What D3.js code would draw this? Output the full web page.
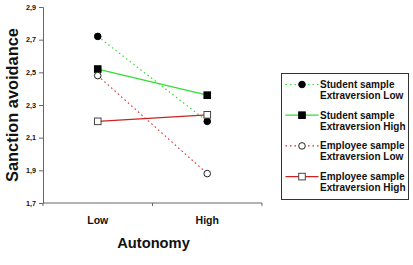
<!DOCTYPE html>
<html>
<head>
<meta charset="utf-8">
<script src="https://cdn.jsdelivr.net/npm/d3@7"></script>
<style>
  body { margin: 0; background: #fff; }
  text { font-family: "Liberation Sans", Arial, sans-serif; font-weight: bold; fill: #111; }
</style>
</head>
<body>
<div id="chart"></div>
<script>
// data
var categories = ["Low", "High"];
var seriesNames = [
  ["Student sample", "Extraversion Low"],
  ["Student sample", "Extraversion High"],
  ["Employee sample", "Extraversion Low"],
  ["Employee sample", "Extraversion High"]
];
var studentLow = [2.72, 2.20];
var studentHigh = [2.52, 2.36];
var employeeLow = [2.48, 1.88];
var employeeHigh = [2.20, 2.24];
var yTicks = [1.7, 1.9, 2.1, 2.3, 2.5, 2.7, 2.9];

var series = [
  { name: seriesNames[0], values: studentLow, color: "#33dd33", dash: "1.5,3", marker: "circle", fill: "#000", stroke: "#000" },
  { name: seriesNames[1], values: studentHigh, color: "#33dd33", dash: null, marker: "square", fill: "#000", stroke: "#000" },
  { name: seriesNames[2], values: employeeLow, color: "#dd2222", dash: "1.5,3", marker: "circle", fill: "#fff", stroke: "#222" },
  { name: seriesNames[3], values: employeeHigh, color: "#cc2222", dash: null, marker: "square", fill: "#fff", stroke: "#444" }
];

var svgWidth = 413, svgHeight = 265;
var margin = { top: 7, left: 43, right: 151, bottom: 62 };
var width = svgWidth - margin.left - margin.right;
var height = svgHeight - margin.top - margin.bottom;

var svg = d3.select("#chart").append("svg")
  .attr("width", svgWidth)
  .attr("height", svgHeight);

var chartGroup = svg.append("g")
  .attr("transform", `translate(${margin.left}, ${margin.top})`);

var xScale = d3.scaleBand().domain(categories).range([0, width]);
var yScale = d3.scaleLinear().domain([1.7, 2.9]).range([height, 0]);

var fmt = d => d3.format(".1f")(d).replace(".", ",");

// y axis
var yAxis = chartGroup.append("g")
  .call(d3.axisLeft(yScale).tickValues(yTicks).tickFormat(fmt).tickSize(4).tickPadding(3));
yAxis.selectAll("line, path").attr("stroke", "#666");
yAxis.selectAll("text").style("font-size", "7.2px").style("font-weight", "bold").attr("fill", "#111");

// x axis with tick marks at band boundaries
var xAxisG = chartGroup.append("g").attr("transform", `translate(0, ${height})`);
xAxisG.append("line").attr("x1", 0).attr("x2", width).attr("y1", 0).attr("y2", 0).attr("stroke", "#666");
[0, width / 2, width].forEach(function (x) {
  xAxisG.append("line").attr("x1", x).attr("x2", x).attr("y1", 0).attr("y2", 3).attr("stroke", "#666");
});
xAxisG.selectAll(".xlab")
  .data(categories)
  .enter()
  .append("text")
  .attr("x", d => xScale(d) + xScale.bandwidth() / 2)
  .attr("y", 21)
  .attr("text-anchor", "middle")
  .style("font-size", "10.5px")
  .text(d => d);

// axis titles
svg.append("text")
  .attr("x", margin.left + width / 2 + 1)
  .attr("y", 248)
  .attr("text-anchor", "middle")
  .style("font-size", "14.7px")
  .text("Autonomy");

svg.append("text")
  .attr("transform", "rotate(-90)")
  .attr("x", -105)
  .attr("y", 18)
  .attr("text-anchor", "middle")
  .style("font-size", "16.4px")
  .text("Sanction avoidance");

var cx = d => xScale(d) + xScale.bandwidth() / 2;

function drawMarker(g, s, x, y) {
  if (s.marker === "circle") {
    g.append("circle").attr("cx", x).attr("cy", y).attr("r", 3.3)
      .attr("fill", s.fill).attr("stroke", s.stroke).attr("stroke-width", 1);
  } else {
    g.append("rect").attr("x", x - 3.3).attr("y", y - 3.3).attr("width", 6.6).attr("height", 6.6)
      .attr("fill", s.fill).attr("stroke", s.stroke).attr("stroke-width", 1);
  }
}

var line = d3.line().x((d, i) => cx(categories[i])).y(d => yScale(d));

series.forEach(function (s) {
  chartGroup.append("path")
    .datum(s.values)
    .attr("d", line)
    .attr("fill", "none")
    .attr("stroke", s.color)
    .attr("stroke-width", 1.2)
    .attr("stroke-dasharray", s.dash);
});
series.forEach(function (s) {
  s.values.forEach(function (v, i) {
    drawMarker(chartGroup, s, cx(categories[i]), yScale(v));
  });
});

// legend
var legend = svg.append("g").attr("transform", "translate(281.5, 73.5)");
legend.append("rect").attr("x", 0).attr("y", 0).attr("width", 127).attr("height", 126)
  .attr("fill", "#fff").attr("stroke", "#333").attr("stroke-width", 1);

series.forEach(function (s, i) {
  var y0 = 11 + i * 30.7;
  var row = legend.append("g").attr("transform", `translate(0, ${y0})`);
  row.append("line").attr("x1", 4).attr("x2", 37).attr("y1", 0).attr("y2", 0)
    .attr("stroke", s.color).attr("stroke-width", 1.2).attr("stroke-dasharray", s.dash);
  drawMarker(row, s, 20.5, 0);
  row.append("text").attr("x", 38.5).attr("y", 3.5).style("font-size", "10px").text(s.name[0]);
  row.append("text").attr("x", 38.5).attr("y", 14.5).style("font-size", "10px").text(s.name[1]);
});
</script>
</body>
</html>
